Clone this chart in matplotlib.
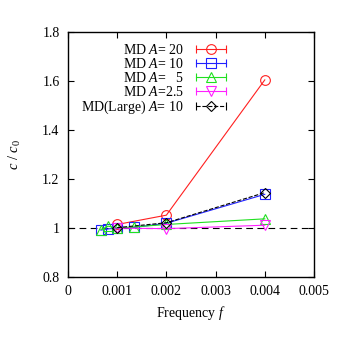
import matplotlib
matplotlib.use('Agg')
import matplotlib.pyplot as plt
from matplotlib.lines import Line2D
from matplotlib.legend_handler import HandlerLine2D, HandlerTuple

plt.rcParams['font.family'] = 'Liberation Serif'
plt.rcParams['mathtext.fontset'] = 'custom'
plt.rcParams['mathtext.rm'] = 'Liberation Serif'
plt.rcParams['mathtext.it'] = 'Liberation Serif:italic'

# data
f_a20 = [0.001, 0.002, 0.004]
c_a20 = [1.015, 1.053, 1.605]
f_a10 = [0.00067, 0.00082, 0.001, 0.00134, 0.002, 0.004]
c_a10 = [0.992, 0.997, 1.0, 1.003, 1.02, 1.138]
f_a5 = [0.00067, 0.00082, 0.001, 0.00134, 0.002, 0.004]
c_a5 = [0.994, 1.008, 1.0, 1.005, 1.015, 1.038]
f_a25 = [0.001, 0.002, 0.004]
c_a25 = [1.0, 0.998, 1.012]
f_large = [0.001, 0.002, 0.004]
c_large = [1.002, 1.022, 1.145]

labels = ['MD $A$= 20', 'MD $A$= 10', 'MD $A$=   5', 'MD $A$=2.5',
          'MD(Large) $A$= 10']

fig = plt.figure(figsize=(3.38, 3.38), dpi=100)
ax = fig.add_axes([0.201, 0.180, 0.728, 0.725])

ax.axhline(1.0, color='k', lw=0.8, dashes=(6, 4), zorder=1)

series = [
    (f_a20, c_a20, '#ff2020', 'o', '-', 7),
    (f_a10, c_a10, '#2020ff', 's', '-', 7),
    (f_a5, c_a5, '#20e020', '^', '-', 7),
    (f_a25, c_a25, '#ff20ff', 'v', '-', 7),
    (f_large, c_large, 'k', 'D', '--', 5),
]

handles = []
hmap = {}
for (x, y, col, mk, ls, ms) in series:
    ax.plot(x, y, color=col, ls=ls, lw=0.8, marker=mk, ms=ms,
            mfc='none', mec=col, mew=0.8)
    caps = Line2D([], [], color=col, ls=ls, lw=0.8, marker='|', ms=6, mew=0.8)
    mark = Line2D([], [], color='none', marker=mk, ms=ms, mfc='none',
                  mec=col, mew=0.8)
    hmap[caps] = HandlerLine2D(numpoints=2)
    hmap[mark] = HandlerLine2D(numpoints=1)
    handles.append((caps, mark))
hmap[tuple] = HandlerTuple(ndivide=1, pad=0)

ax.legend(handles, labels, handler_map=hmap, markerfirst=False,
          frameon=False, loc='upper right', bbox_to_anchor=(0.659, 0.955),
          fontsize=10, handlelength=2.75, handletextpad=0.6,
          labelspacing=0.0, borderpad=0, borderaxespad=0)

ax.set_xlim(0, 0.005)
ax.set_ylim(0.8, 1.8)
ax.set_xticks([0, 0.001, 0.002, 0.003, 0.004, 0.005])
ax.set_xticklabels(['0', '0.001', '0.002', '0.003', '0.004', '0.005'])
ax.set_yticks([0.8, 1.0, 1.2, 1.4, 1.6, 1.8])
ax.set_yticklabels(['0.8', '1', '1.2', '1.4', '1.6', '1.8'])
ax.tick_params(direction='in', top=True, right=True, labelsize=10,
               length=4, width=0.8, pad=6)
for s in ax.spines.values():
    s.set_linewidth(1.0)

ax.set_xlabel('Frequency $f$', fontsize=10, labelpad=4)
ax.set_ylabel('$c\\ /\\ c_0$', fontsize=10.5, labelpad=14)

fig.savefig('out.png', dpi=100)
